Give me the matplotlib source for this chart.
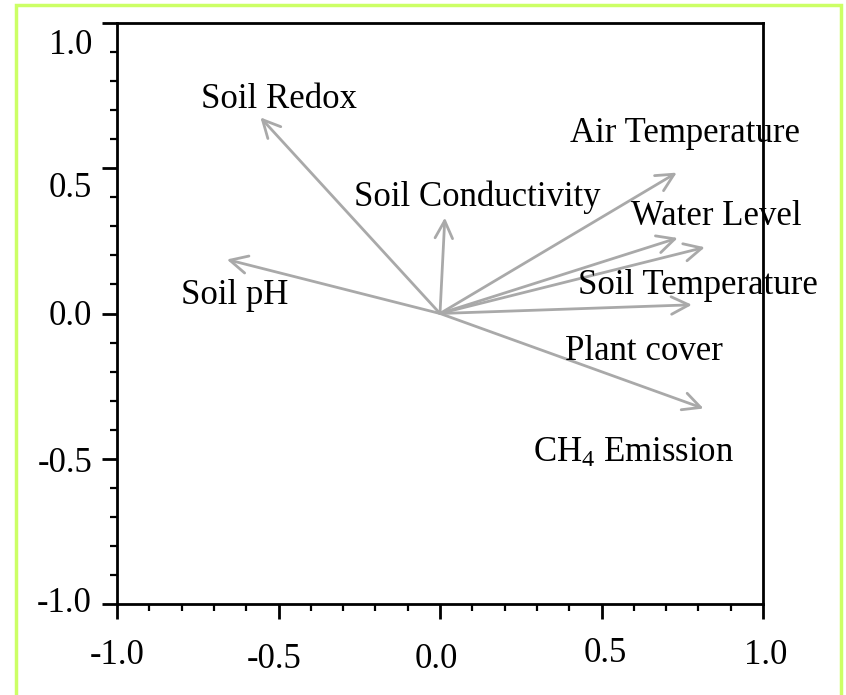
import matplotlib
matplotlib.use("Agg")
import matplotlib.pyplot as plt
from matplotlib.patches import Rectangle
from matplotlib.ticker import MultipleLocator, FixedLocator
import matplotlib.transforms as mtransforms

# ---- data ----
variables = ["Soil Redox", "Soil Conductivity", "Soil pH", "Air Temperature",
             "Water Level", "Water Level (2)", "Soil Temperature", "CH$_4$ Emission"]
arrow_x = [-0.556, 0.015, -0.66, 0.733, 0.736, 0.82, 0.78, 0.816]
arrow_y = [0.675, 0.33, 0.186, 0.485, 0.26, 0.228, 0.03, -0.327]

label_names = ["Soil Redox", "Soil Conductivity", "Soil pH", "Air Temperature",
               "Water Level", "Soil Temperature", "Plant cover", "CH$_4$ Emission"]
label_x = [-0.498, 0.114, -0.637, 0.757, 0.856, 0.80, 0.63, 0.60]
label_y = [0.735, 0.40, 0.062, 0.62, 0.335, 0.095, -0.13, -0.48]

ticks = [-1.0, -0.5, 0.0, 0.5, 1.0]
tick_labels = ["-1.0", "-0.5", "0.0", "0.5", "1.0"]

plt.rcParams['font.family'] = ['Liberation Serif', 'DejaVu Serif']
plt.rcParams['mathtext.fontset'] = 'custom'
plt.rcParams['mathtext.rm'] = 'Liberation Serif'
plt.rcParams['mathtext.it'] = 'Liberation Serif:italic'

FS = 25

fig = plt.figure(figsize=(8.46, 6.95), dpi=100)
W, H = 846, 695

# light green frame
fig.patches.append(Rectangle((16 / W, -0.05), (841 - 16) / W, (H - 5) / H + 0.05,
                             transform=fig.transFigure, fill=False,
                             edgecolor='#ccff66', linewidth=2.5, zorder=0))

ax = fig.add_axes([117 / W, (H - 604) / H, (763 - 117) / W, (604 - 23) / H])
ax.set_xlim(-1, 1)
ax.set_ylim(-1, 1)

grey = '#a9a9a9'
for x, y in zip(arrow_x, arrow_y):
    ax.annotate('', xy=(x, y), xytext=(0, 0),
                arrowprops=dict(arrowstyle='->,head_length=0.9,head_width=0.45',
                                color=grey, lw=2.0, shrinkA=0, shrinkB=0,
                                mutation_scale=14))

for name, x, y in zip(label_names, label_x, label_y):
    ax.text(x, y, name, ha='center', va='center', fontsize=FS, color='black')

for s in ax.spines.values():
    s.set_linewidth(2.0)
    s.set_color('black')

ax.xaxis.set_major_locator(FixedLocator(ticks))
ax.yaxis.set_major_locator(FixedLocator(ticks))
ax.set_xticklabels(tick_labels)
ax.set_yticklabels(tick_labels)
ax.xaxis.set_minor_locator(MultipleLocator(0.1))
ax.yaxis.set_minor_locator(MultipleLocator(0.1))
ax.tick_params(which='major', direction='out', length=11, width=2, labelsize=FS, color='black')
ax.tick_params(which='minor', direction='out', length=5, width=1.6, color='black')
ax.tick_params(axis='x', which='major', pad=16)
ax.tick_params(axis='y', which='major', pad=7)
ax.tick_params(top=False, right=False, which='both')

# slight per-label offsets as in the reference
x_off = [0, -4, -4, 4, 3]
y_off_x = [-2, 2, 2, -5, -2]
for t, dx, dy in zip(ax.xaxis.get_major_ticks(), x_off, y_off_x):
    off = mtransforms.ScaledTranslation(dx / 100, -dy / 100, fig.dpi_scale_trans)
    t.label1.set_transform(t.label1.get_transform() + off)
y_off = [5, -1, 1, -16, -18]
for t, dy in zip(ax.yaxis.get_major_ticks(), y_off):
    off = mtransforms.ScaledTranslation(0, dy / 100, fig.dpi_scale_trans)
    t.label1.set_transform(t.label1.get_transform() + off)

fig.savefig("out.png", dpi=100)
